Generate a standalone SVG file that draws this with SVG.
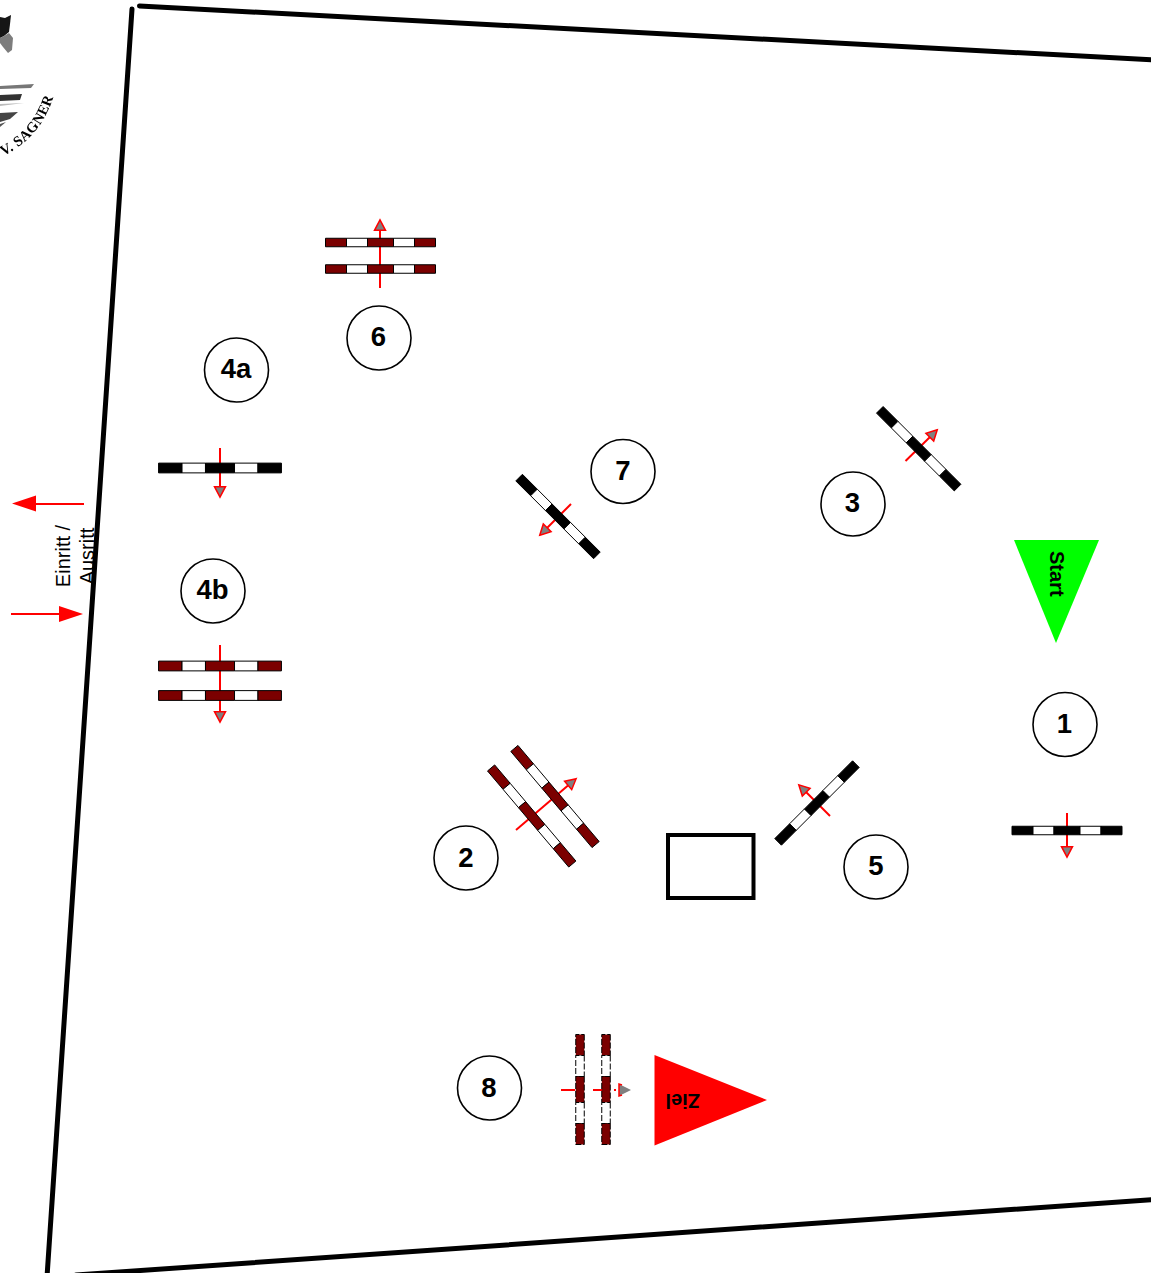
<svg xmlns="http://www.w3.org/2000/svg" width="1151" height="1273" viewBox="0 0 1151 1273">
<style>
text{font-family:"Liberation Sans",Arial,sans-serif;fill:#000}
.num{font-size:27.500px;font-weight:bold;text-anchor:middle}
.flag{font-size:20px;font-weight:bold}
.gate{font-size:20px;text-anchor:middle}
.ring{fill:#fff;stroke:#000;stroke-width:1.6}
.edge{fill:none;stroke:#000;stroke-width:5;stroke-linecap:round}
.path{stroke:#f00;stroke-width:2;fill:none}
.big{stroke:#f00;stroke-width:2}
.rail rect{stroke:#000;stroke-width:1;vector-effect:non-scaling-stroke}
.w{fill:#fff}.k{fill:#000}.m{fill:#7b0000}
.dash{stroke-dasharray:6 2}
</style>
<defs>
<g id="rail-black" class="rail">
<rect class="k" x="-55" y="-4.250" width="21" height="8.500"/><rect class="w" x="-34" y="-4.250" width="21" height="8.500"/><rect class="k" x="-13" y="-4.250" width="26" height="8.500"/><rect class="w" x="13" y="-4.250" width="21" height="8.500"/><rect class="k" x="34" y="-4.250" width="21" height="8.500"/>
</g>
<g id="rail-red" class="rail">
<rect class="m" x="-55" y="-4.250" width="21" height="8.500"/><rect class="w" x="-34" y="-4.250" width="21" height="8.500"/><rect class="m" x="-13" y="-4.250" width="26" height="8.500"/><rect class="w" x="13" y="-4.250" width="21" height="8.500"/><rect class="m" x="34" y="-4.250" width="21" height="8.500"/>
</g>
<polygon id="head" points="0,1.800 -5.500,12.300 5.500,12.300" fill="#808080" stroke="#f00" stroke-width="1.500"/>
<filter id="soft" x="-10%" y="-10%" width="120%" height="120%"><feGaussianBlur stdDeviation="0.6"/></filter>
</defs>

<g id="logo" filter="url(#soft)">
<polygon points="0,17 5,18 11,15 10,24 9,32 4,36 0,38" fill="#141414"/>
<polygon points="0,38 4,36 9,33 13,38 12,50 8,53 3,47 0,43" fill="#7d7d7d"/>
<polygon points="0,86 34,84 31,88 0,89" fill="#777"/>
<polygon points="0,95 22,94 20,100 0,101" fill="#333"/>
<polygon points="0,104 24,103 0,106" fill="#bbb"/>
<polygon points="0,113 18,112 10,119 0,122" fill="#444"/>
<polygon points="0,124 6,122 0,127" fill="#555"/>
<path id="logo-arc" d="M3,156 Q40,138 53,98" fill="none"/>
<text font-size="14.500" font-weight="bold" letter-spacing="0.4" style="font-family:'Liberation Serif',serif" fill="#333"><textPath href="#logo-arc">V. SAGNER</textPath></text>
</g>

<g id="arena">
<line class="edge" x1="139.500" y1="6" x2="1155" y2="60"/>
<line class="edge" x1="132" y1="9" x2="47" y2="1277"/>
<line class="edge" x1="76" y1="1275" x2="1155" y2="1199.500"/>
</g>

<g id="connectors">
<g id="gate-out"><line class="big" x1="84" y1="504" x2="35" y2="504"/><polygon points="12,503.500 36,495.500 36,511.500" fill="#f00"/></g>
<g id="gate-in"><line class="big" x1="11" y1="614" x2="60" y2="614"/><polygon points="83,614 59,606 59,622" fill="#f00"/></g>
</g>

<g id="gate-label">
<text class="gate" transform="translate(70,556) rotate(-90)">Einritt /</text>
<text class="gate" transform="translate(94,556) rotate(-90)">Ausritt</text>
</g>

<g id="obstacle-6">
<line class="path" x1="380" y1="288" x2="380" y2="229"/><use href="#head" transform="translate(380,218)"/>
<use href="#rail-red" transform="translate(380.500,242.500)"/><use href="#rail-red" transform="translate(380.500,269)"/>
</g>
<g id="obstacle-4a">
<line class="path" x1="220" y1="448" x2="220" y2="487"/><use href="#head" transform="translate(220,499) rotate(180)"/>
<use href="#rail-black" transform="translate(220,468) scale(1.117,1.150)"/>
</g>
<g id="obstacle-4b">
<line class="path" x1="220" y1="645" x2="220" y2="712"/><use href="#head" transform="translate(220,724) rotate(180)"/>
<use href="#rail-red" transform="translate(220,666) scale(1.117,1.150)"/><use href="#rail-red" transform="translate(220,695.500) scale(1.117,1.150)"/>
</g>
<g id="obstacle-1">
<line class="path" x1="1067" y1="813" x2="1067" y2="847"/><use href="#head" transform="translate(1067,859) rotate(180)"/>
<use href="#rail-black" transform="translate(1067,830.500)"/>
</g>
<g id="obstacle-3">
<line class="path" x1="905.500" y1="461" x2="930" y2="437"/><use href="#head" transform="translate(938.500,428.500) rotate(45)"/>
<use href="#rail-black" transform="translate(918.700,448.700) rotate(45) scale(1,1.100)"/>
</g>
<g id="obstacle-7">
<line class="path" x1="571" y1="504" x2="547" y2="528"/><use href="#head" transform="translate(538.500,536.500) rotate(225)"/>
<use href="#rail-black" transform="translate(558,516.500) rotate(45) scale(1,1.100)"/>
</g>
<g id="obstacle-5">
<line class="path" x1="830" y1="816" x2="806" y2="792"/><use href="#head" transform="translate(797.500,783.500) rotate(-45)"/>
<use href="#rail-black" transform="translate(817,803) rotate(-45) scale(1,1.100)"/>
</g>
<g id="obstacle-2">
<line class="path" x1="516" y1="830" x2="568" y2="785.500"/><use href="#head" transform="translate(577.500,777.500) rotate(49.600)"/>
<use href="#rail-red" transform="translate(555,796.500) rotate(49.800) scale(1.144,1.100)"/><use href="#rail-red" transform="translate(531.700,816) rotate(49.800) scale(1.144,1.100)"/>
</g>
<g id="obstacle-8">
<line class="path" x1="561" y1="1090" x2="617" y2="1090" stroke-dasharray="14 18 9 12 2 9"/>
<polygon points="619,1084 631,1090 619,1096" fill="#808080"/>
<path d="M622,1085 L619,1084 L619,1096 L622,1095" fill="none" stroke="#f00" stroke-width="1.500"/>
<use href="#rail-red" class="dash" transform="translate(580,1089.500) rotate(90)"/><use href="#rail-red" class="dash" transform="translate(606,1089.500) rotate(90)"/>
</g>

<g id="water"><rect x="668" y="835" width="85.500" height="63" fill="#fff" stroke="#000" stroke-width="4"/></g>

<g id="flag-start"><polygon points="1014,540 1099,540 1056,643" fill="#0f0"/><text class="flag" transform="translate(1049.500,551) rotate(90)">Start</text></g>
<g id="flag-ziel"><polygon points="654.500,1055 654.500,1145.500 767,1100" fill="#f00"/><text class="flag" transform="translate(700,1094) rotate(180)">Ziel</text></g>

<g id="label-6"><circle class="ring" cx="379" cy="338" r="32"/><text class="num" x="378.500" y="346">6</text></g>
<g id="label-4a"><circle class="ring" cx="236.500" cy="370" r="32"/><text class="num" x="236" y="378">4a</text></g>
<g id="label-4b"><circle class="ring" cx="213" cy="591" r="32"/><text class="num" x="212.500" y="599">4b</text></g>
<g id="label-7"><circle class="ring" cx="623" cy="471.500" r="32"/><text class="num" x="623" y="480">7</text></g>
<g id="label-3"><circle class="ring" cx="853" cy="504" r="32"/><text class="num" x="852.500" y="511.500">3</text></g>
<g id="label-1"><circle class="ring" cx="1065" cy="724.500" r="32"/><text class="num" x="1064.500" y="733">1</text></g>
<g id="label-5"><circle class="ring" cx="876" cy="867" r="32"/><text class="num" x="876" y="875">5</text></g>
<g id="label-2"><circle class="ring" cx="466" cy="858" r="32"/><text class="num" x="466" y="867">2</text></g>
<g id="label-8"><circle class="ring" cx="489.500" cy="1088" r="32"/><text class="num" x="489" y="1096.500">8</text></g>
</svg>
